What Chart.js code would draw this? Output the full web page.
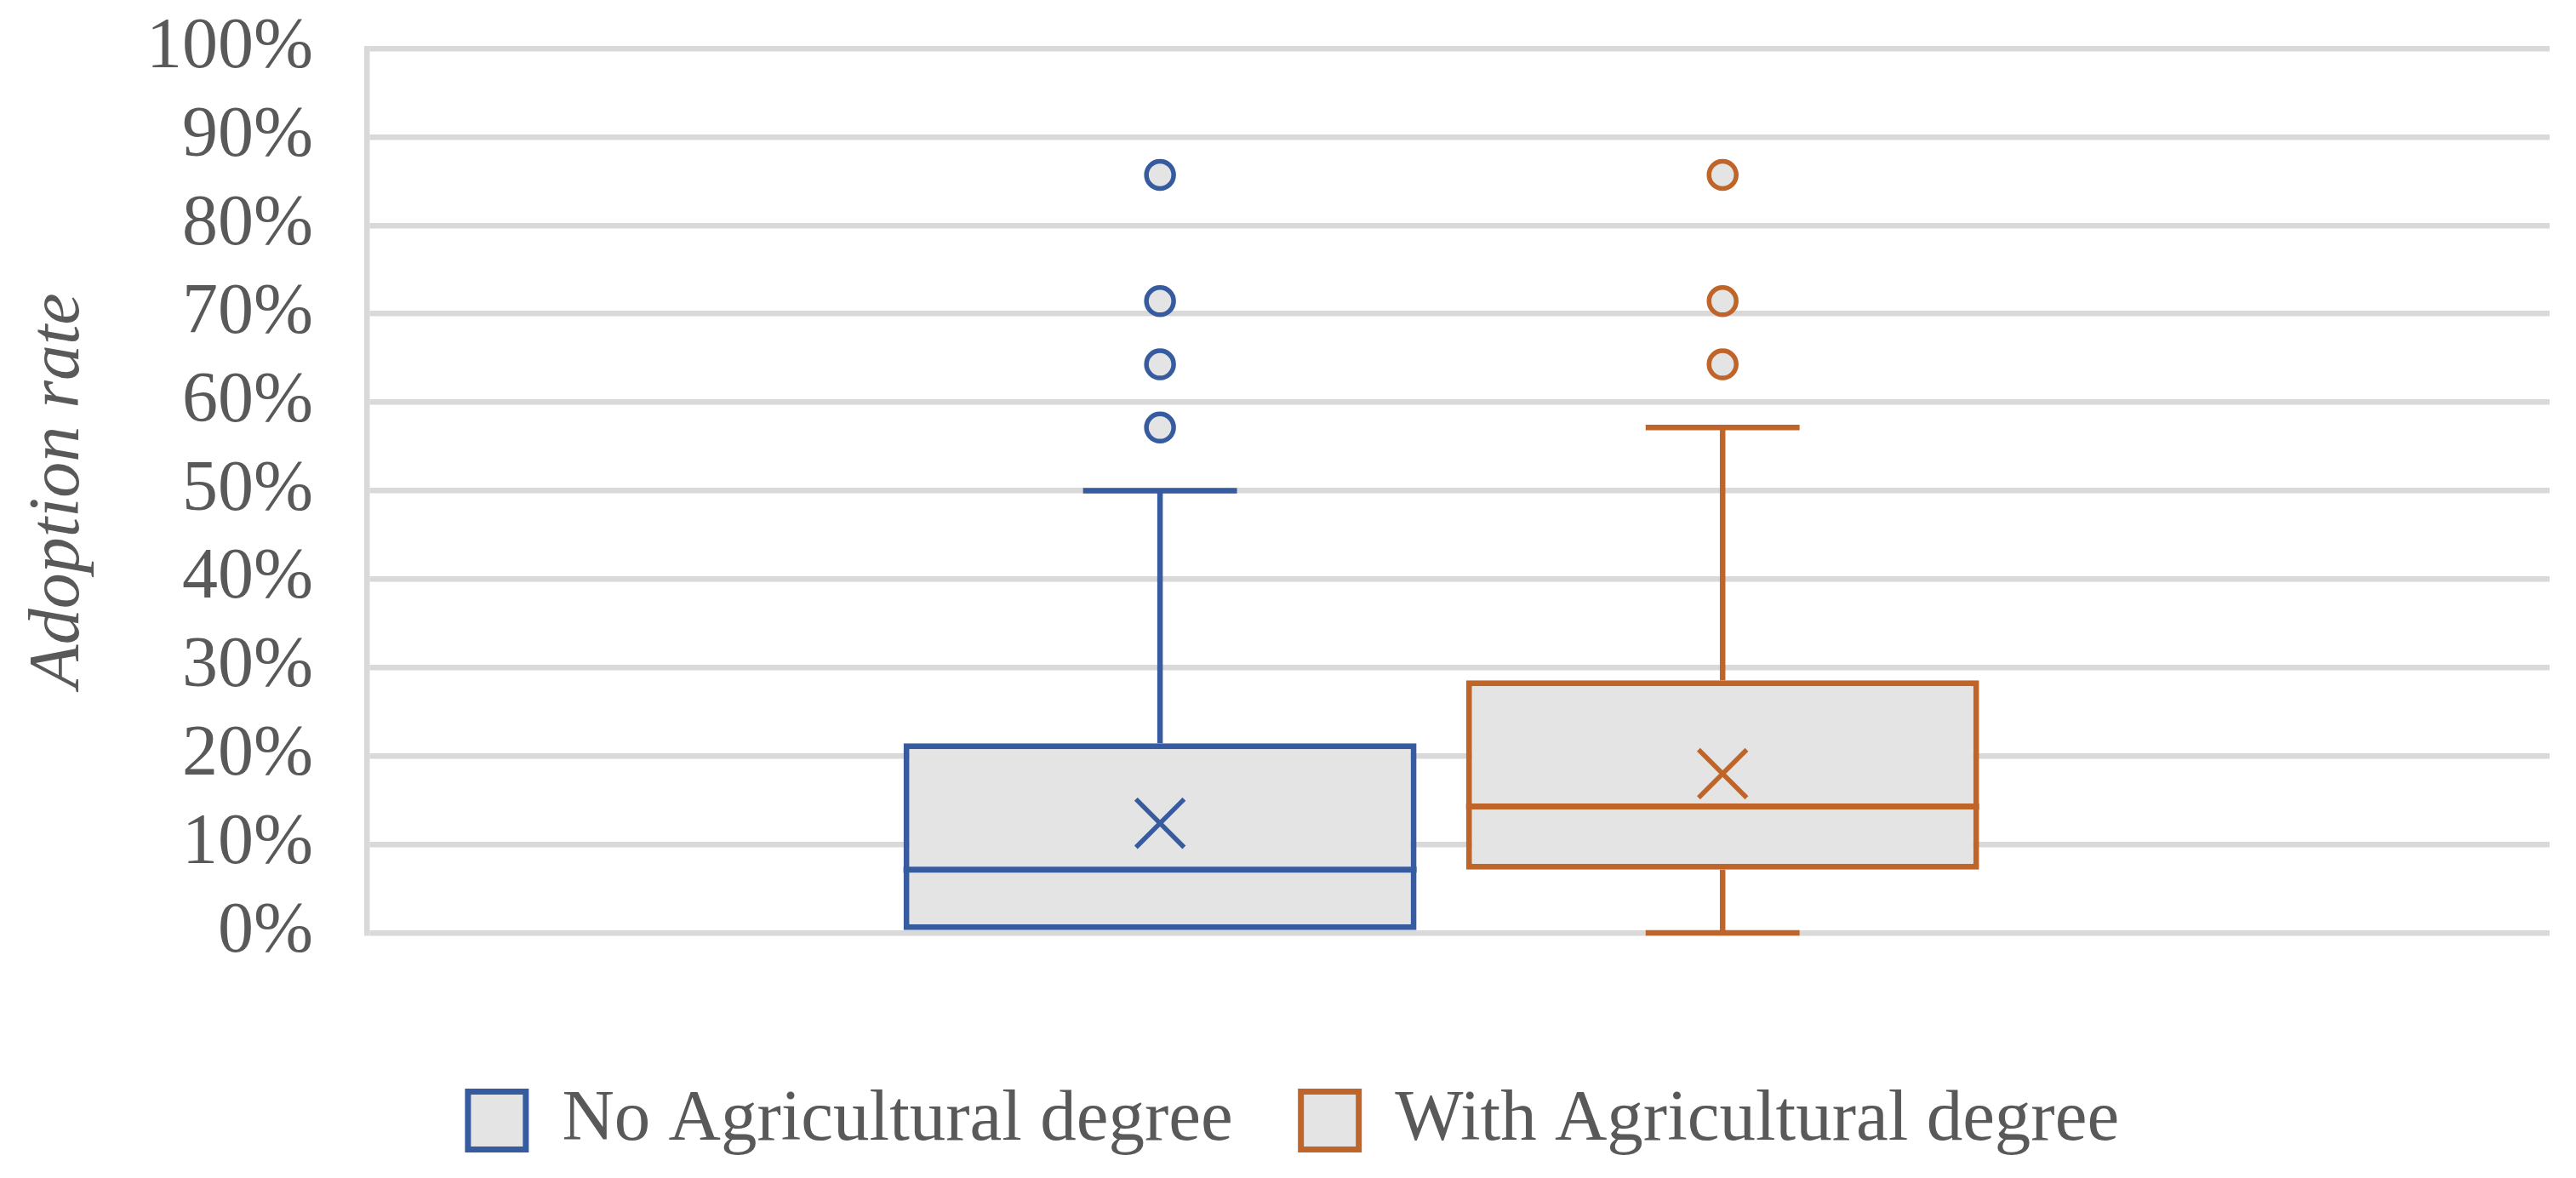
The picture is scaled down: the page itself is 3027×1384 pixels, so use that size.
<!DOCTYPE html>
<html>
<head>
<meta charset="utf-8">
<script src="https://cdn.jsdelivr.net/npm/chart.js@4"></script>
<style>
  body { margin: 0; background: #fff; }
  canvas { display: block; }
</style>
</head>
<body>
<canvas id="box" width="3027" height="1384"></canvas>
<script>
// data (shares are multiples of 1/14)
const groups = ["No Agricultural degree", "With Agricultural degree"];
const positions = [1, 2];
const q1 = [0, 7.14];
const q3 = [21.43, 28.57];
const medians = [7.14, 14.29];
const means = [12.4, 18.0];
const whiskerLow = [0, 0];
const whiskerHigh = [50, 57.14];
const outliersNo = [57.14, 64.29, 71.43, 85.71];
const outliersWith = [64.29, 71.43, 85.71];
const yTicks = [0, 10, 20, 30, 40, 50, 60, 70, 80, 90, 100];

const colors = ["#365b9e", "#c0652a"];
const boxFill = "#e4e4e4";
const textColor = "#595959";
const gridColor = "#d9d9d9";
const fontFamily = "'Liberation Serif', 'Times New Roman', serif";

Chart.defaults.font.family = fontFamily;
Chart.defaults.color = textColor;

// whiskers, caps and median lines, placed with the y scale
const boxLines = {
  id: "boxLines",
  afterDatasetsDraw(chart) {
    const ctx = chart.ctx;
    const y = chart.scales.y;
    groups.forEach((g, i) => {
      const bar = chart.getDatasetMeta(i).data[0];
      if (!bar) return;
      const x = bar.x, w = bar.width, cap = w * 0.3;
      ctx.save();
      ctx.strokeStyle = colors[i];
      ctx.lineWidth = 6.5;
      ctx.lineCap = "butt";
      const seg = (v1, v2) => {
        ctx.beginPath();
        ctx.moveTo(x, y.getPixelForValue(v1));
        ctx.lineTo(x, y.getPixelForValue(v2));
        ctx.stroke();
        ctx.beginPath();
        ctx.moveTo(x - cap / 2, y.getPixelForValue(v2));
        ctx.lineTo(x + cap / 2, y.getPixelForValue(v2));
        ctx.stroke();
      };
      if (whiskerHigh[i] > q3[i]) seg(q3[i], whiskerHigh[i]);
      if (whiskerLow[i] < q1[i]) seg(q1[i], whiskerLow[i]);
      ctx.lineWidth = 7;
      ctx.beginPath();
      ctx.moveTo(x - w / 2, y.getPixelForValue(medians[i]));
      ctx.lineTo(x + w / 2, y.getPixelForValue(medians[i]));
      ctx.stroke();
      ctx.restore();
    });
  }
};

// the legend sits a little right of the plot's centre in the original
const legendShift = {
  id: "legendShift",
  afterLayout(chart) {
    chart.legend.left += 22;
    chart.legend.right += 22;
  }
};

const boxSets = groups.map((g, i) => ({
  type: "bar",
  label: g,
  data: [{ x: positions[i], y: [q1[i], q3[i]] }],
  backgroundColor: boxFill,
  borderColor: colors[i],
  borderWidth: 7,
  borderSkipped: false,
  grouped: false,
  categoryPercentage: 1,
  barPercentage: 0.912,
  order: 2
}));

const outlierSet = (vals, i) => ({
  type: "scatter",
  label: "outliers " + groups[i],
  data: vals.map(v => ({ x: positions[i], y: v })),
  pointStyle: "circle",
  pointRadius: 16,
  backgroundColor: boxFill,
  borderColor: colors[i],
  borderWidth: 5.5,
  order: 1
});

const meanSet = {
  type: "scatter",
  label: "mean",
  data: means.map((m, i) => ({ x: positions[i], y: m })),
  pointStyle: "crossRot",
  pointRadius: 40,
  borderColor: colors,
  backgroundColor: colors,
  borderWidth: 5.5,
  order: 1
};

new Chart(document.getElementById("box"), {
  type: "bar",
  data: {
    datasets: [...boxSets, outlierSet(outliersNo, 0), outlierSet(outliersWith, 1), meanSet]
  },
  options: {
    responsive: false,
    animation: false,
    layout: { autoPadding: false, padding: { left: 0, right: 31, top: 57, bottom: 15 } },
    scales: {
      x: {
        type: "linear",
        min: -0.41,
        max: 3.47,
        offset: false,
        afterBuildTicks: s => { s.ticks = positions.map(v => ({ value: v })); },
        grid: { display: false },
        border: { display: false },
        ticks: { display: false },
        afterFit: s => {
          s.height = 98;
          s.paddingLeft = 0;
          s.paddingRight = 0;
        }
      },
      y: {
        min: 0,
        max: 100,
        stacked: false,
        afterBuildTicks: s => { s.ticks = yTicks.map(v => ({ value: v })); },
        afterFit: s => { s.width = 431; },
        grid: {
          color: gridColor,
          lineWidth: 6.5,
          drawTicks: true,
          tickLength: 63,
          tickColor: "rgba(0,0,0,0)"
        },
        border: { display: true, color: gridColor, width: 6.5 },
        ticks: {
          autoSkip: false,
          padding: 0,
          color: textColor,
          font: { size: 84 },
          callback: v => v + "%"
        },
        title: {
          display: true,
          text: "Adoption rate",
          color: textColor,
          font: { size: 84, style: "italic" },
          padding: { top: 20, bottom: 0 }
        }
      }
    },
    plugins: {
      legend: {
        position: "bottom",
        labels: {
          color: textColor,
          font: { size: 85 },
          boxWidth: 68,
          boxHeight: 68,
          padding: 80,
          filter: item => item.datasetIndex < groups.length
        }
      },
      tooltip: { enabled: false }
    }
  },
  plugins: [boxLines, legendShift]
});
</script>
</body>
</html>
